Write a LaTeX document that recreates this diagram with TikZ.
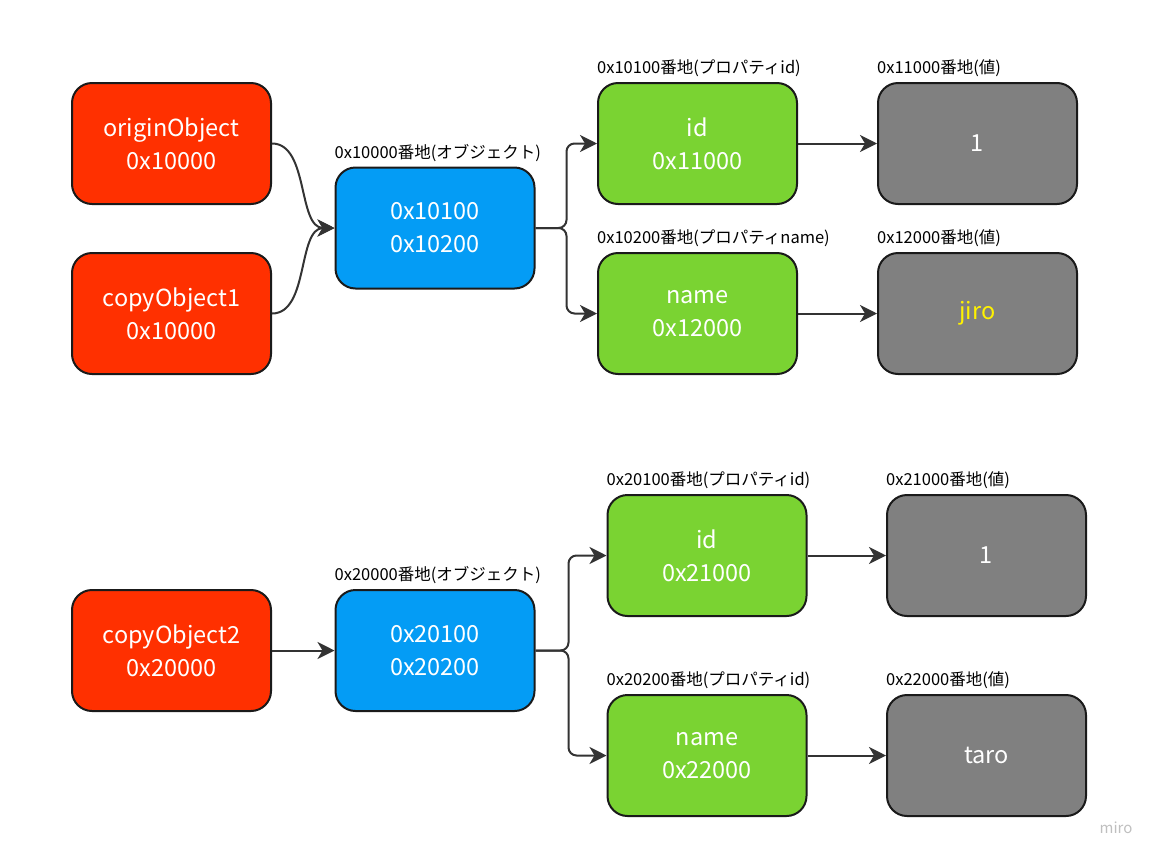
\documentclass[tikz,border=0pt]{standalone}
\usepackage{fontspec}
\setmainfont{Noto Sans CJK JP}
\usetikzlibrary{arrows.meta,positioning}

\definecolor{ptrred}{HTML}{FF3000}
\definecolor{objblue}{HTML}{049CF5}
\definecolor{propgreen}{HTML}{7AD332}
\definecolor{valgray}{HTML}{808080}
\definecolor{edge}{HTML}{1A1A1A}
\definecolor{wire}{HTML}{333333}
\definecolor{jiroyellow}{HTML}{FFF200}

\begin{document}
\begin{tikzpicture}[x=1pt,y=-1pt,
    box/.style={draw=edge,line width=2pt,rounded corners=20pt,minimum width=199pt,
      minimum height=121pt,align=center,text=white,font=\fontsize{23.5}{33}\selectfont},
    ptr/.style={box,fill=ptrred},
    obj/.style={box,fill=objblue},
    prop/.style={box,fill=propgreen},
    val/.style={box,fill=valgray},
    addr/.style={anchor=south west,inner sep=0pt,font=\fontsize{16.5}{18}\selectfont},
    link/.style={draw=wire,line width=2pt,-{Stealth[length=17pt,width=17pt,inset=5pt]}}]
  \useasboundingbox (0,0) rectangle (1162,860);
  % first object
  \node[ptr](origin)at(171.5,143.5){originObject\\0x10000};
  \node[ptr](copyA)at(171.5,313.5){copyObject1\\0x10000};
  \node[obj](objA)at(435,228){0x10100\\0x10200};
  \node[prop](idA)at(697.5,143.5){id\\0x11000};
  \node[prop](nameA)at(697.5,313.5){name\\0x12000};
  \node[val](valIdA)at(977.5,143.5){1};
  \node[val](valNameA)at(977.5,313.5){\textcolor{jiroyellow}{jiro}};
  \node[addr]at([yshift=5pt]objA.north west){0x10000番地(オブジェクト)};
  \node[addr]at([yshift=5pt]idA.north west){0x10100番地(プロパティid)};
  \node[addr]at([yshift=5pt]nameA.north west){0x10200番地(プロパティname)};
  \node[addr]at([yshift=5pt]valIdA.north west){0x11000番地(値)};
  \node[addr]at([yshift=5pt]valNameA.north west){0x12000番地(値)};
  \draw[link](origin.east)to[out=0,in=180,looseness=0.9](objA.west);
  \draw[link](copyA.east)to[out=0,in=180,looseness=0.9](objA.west);
  \draw[link,rounded corners=8pt](objA.east)--++(31,0)|-(idA.west);
  \draw[link,rounded corners=8pt](objA.east)--++(31,0)|-(nameA.west);
  \draw[link](idA.east)--(valIdA.west);
  \draw[link](nameA.east)--(valNameA.west);
  % second object
  \node[ptr](copyB)at(171.5,650.5){copyObject2\\0x20000};
  \node[obj](objB)at(435,650.5){0x20100\\0x20200};
  \node[prop](idB)at(707,555.5){id\\0x21000};
  \node[prop](nameB)at(707,755.5){name\\0x22000};
  \node[val](valIdB)at(986.5,555.5){1};
  \node[val](valNameB)at(986.5,755.5){taro};
  \node[addr]at([yshift=5pt]objB.north west){0x20000番地(オブジェクト)};
  \node[addr]at([yshift=5pt]idB.north west){0x20100番地(プロパティid)};
  \node[addr]at([yshift=5pt]nameB.north west){0x20200番地(プロパティid)};
  \node[addr]at([yshift=5pt]valIdB.north west){0x21000番地(値)};
  \node[addr]at([yshift=5pt]valNameB.north west){0x22000番地(値)};
  \draw[link](copyB.east)--(objB.west);
  \draw[link,rounded corners=8pt](objB.east)--++(33,0)|-(idB.west);
  \draw[link,rounded corners=8pt](objB.east)--++(33,0)|-(nameB.west);
  \draw[link](idB.east)--(valIdB.west);
  \draw[link](nameB.east)--(valNameB.west);
  \node[text=black!25,font=\fontsize{15}{16}\selectfont](miro)at(1116,828){miro};
\end{tikzpicture}
\end{document}
